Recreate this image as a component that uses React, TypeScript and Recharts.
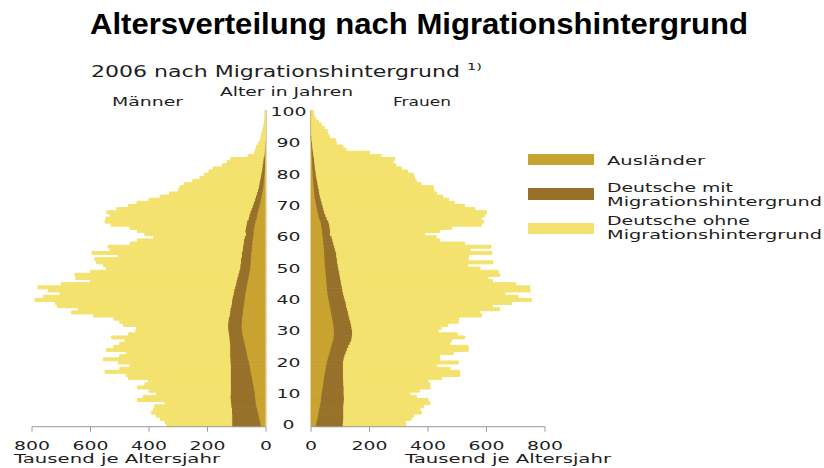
import { BarChart, Bar, XAxis, YAxis } from 'recharts';

// Altersjahre 0 bis 100 (100 = 100 und älter)
const ages = [
  0, 1, 2, 3, 4, 5, 6, 7, 8, 9,
  10, 11, 12, 13, 14, 15, 16, 17, 18, 19,
  20, 21, 22, 23, 24, 25, 26, 27, 28, 29,
  30, 31, 32, 33, 34, 35, 36, 37, 38, 39,
  40, 41, 42, 43, 44, 45, 46, 47, 48, 49,
  50, 51, 52, 53, 54, 55, 56, 57, 58, 59,
  60, 61, 62, 63, 64, 65, 66, 67, 68, 69,
  70, 71, 72, 73, 74, 75, 76, 77, 78, 79,
  80, 81, 82, 83, 84, 85, 86, 87, 88, 89,
  90, 91, 92, 93, 94, 95, 96, 97, 98, 99,
  100,
];

const ageTicks = [0, 10, 20, 30, 40, 50, 60, 70, 80, 90, 100];
const valueTicks = [0, 200, 400, 600, 800];

// Tausend je Altersjahr – Männer
const maennerAuslaender = [
  20, 22, 25, 27, 30, 32, 35, 37, 38, 40,
  40, 42, 44, 46, 48, 50, 52, 54, 56, 58,
  60, 63, 66, 68, 70, 72, 75, 78, 80, 82,
  84, 85, 85, 84, 84, 82, 80, 80, 78, 76,
  75, 74, 72, 70, 68, 66, 64, 62, 60, 58,
  56, 55, 54, 54, 52, 52, 50, 50, 48, 48,
  46, 44, 44, 42, 40, 38, 34, 32, 30, 27,
  24, 21, 19, 17, 15, 13, 11, 10, 9, 8,
  7, 6, 5, 5, 4, 4, 3, 3, 2, 2,
  2, 1, 1, 1, 1, 1, 1, 1, 1, 1,
  1,
];
const maennerMitMig = [
  97, 95, 92, 90, 88, 86, 85, 84, 84, 83,
  82, 80, 78, 76, 74, 72, 70, 68, 66, 64,
  63, 60, 58, 56, 54, 52, 50, 48, 47, 46,
  46, 46, 46, 46, 45, 44, 44, 43, 42, 42,
  42, 41, 40, 40, 39, 38, 38, 37, 36, 35,
  34, 34, 33, 33, 32, 32, 31, 30, 30, 29,
  28, 26, 28, 28, 28, 28, 27, 26, 25, 24,
  23, 22, 20, 19, 17, 16, 15, 14, 13, 12,
  11, 10, 9, 8, 7, 6, 4, 3, 3, 2,
  2, 1, 1, 1, 1, 1, 1, 1, 1, 1,
  1,
];
const maennerOhneMig = [
  223, 228, 245, 258, 273, 267, 260, 224, 318, 297,
  253, 278, 318, 292, 280, 348, 356, 428, 378, 343,
  382, 433, 376, 354, 421, 396, 375, 356, 401, 342,
  315, 311, 357, 370, 391, 464, 541, 519, 594, 602,
  673, 645, 592, 634, 673, 596, 498, 551, 557, 507,
  455, 467, 492, 498, 421, 511, 452, 460, 387, 363,
  311, 344, 368, 395, 462, 484, 486, 475, 489, 459,
  423, 398, 361, 326, 298, 271, 268, 256, 228, 206,
  192, 179, 167, 137, 122, 110, 54, 34, 31, 28,
  21, 18, 15, 13, 10, 8, 5, 3, 2, 1,
  1,
];

// Tausend je Altersjahr – Frauen
const frauenAuslaender = [
  19, 21, 24, 26, 28, 30, 32, 34, 36, 37,
  38, 40, 42, 43, 45, 46, 48, 50, 52, 54,
  56, 59, 62, 65, 68, 71, 74, 77, 79, 80,
  80, 79, 78, 76, 74, 72, 70, 68, 66, 64,
  62, 60, 58, 57, 56, 55, 54, 53, 52, 51,
  50, 49, 48, 48, 47, 47, 46, 45, 44, 43,
  42, 40, 40, 38, 36, 34, 30, 27, 24, 22,
  20, 18, 16, 14, 13, 12, 11, 10, 9, 8,
  7, 7, 6, 6, 5, 5, 4, 4, 3, 3,
  2, 1, 1, 1, 1, 1, 1, 1, 1, 1,
  1,
];
const frauenMitMig = [
  91, 90, 88, 86, 84, 82, 80, 79, 78, 77,
  75, 73, 71, 69, 67, 65, 63, 61, 59, 57,
  55, 54, 54, 55, 56, 58, 60, 62, 62, 62,
  62, 61, 60, 60, 59, 58, 58, 57, 56, 56,
  55, 54, 53, 52, 51, 50, 49, 48, 47, 46,
  45, 44, 43, 42, 41, 40, 38, 36, 34, 32,
  30, 26, 27, 27, 28, 27, 25, 24, 23, 22,
  21, 20, 19, 18, 17, 16, 15, 14, 13, 12,
  11, 10, 9, 8, 8, 7, 6, 5, 4, 3,
  3, 2, 2, 1, 1, 1, 1, 1, 1, 1,
  1,
];
const frauenOhneMig = [
  215, 211, 231, 238, 265, 261, 272, 294, 286, 246,
  225, 257, 294, 295, 288, 336, 398, 397, 364, 319,
  393, 328, 324, 367, 414, 408, 341, 341, 384, 358,
  293, 305, 330, 367, 372, 453, 450, 520, 498, 565,
  637, 594, 552, 640, 641, 595, 517, 504, 546, 543,
  483, 443, 531, 447, 452, 531, 460, 534, 447, 365,
  356, 323, 373, 415, 518, 529, 527, 543, 553, 516,
  484, 453, 435, 419, 400, 392, 392, 352, 338, 334,
  332, 313, 294, 276, 267, 274, 230, 191, 113, 103,
  82, 81, 61, 56, 53, 43, 33, 23, 13, 8,
  6,
];

const C_AUS = '#C9A331';
const C_MIT = '#97712A';
const C_OHNE = '#F3E26E';
const TEXT = '#1e1e1e';
const LABEL_FONT = '"DejaVu Sans", sans-serif';

const men = ages.map((age, i) => ({
  age,
  aus: maennerAuslaender[i],
  mit: maennerMitMig[i],
  ohne: maennerOhneMig[i],
}));
const women = ages.map((age, i) => ({
  age,
  aus: frauenAuslaender[i],
  mit: frauenMitMig[i],
  ohne: frauenOhneMig[i],
}));

const AgeTick = ({ y, payload }: any) => {
  const v = Number(payload.value);
  if (!ageTicks.includes(v)) return <g />;
  const s = String(v);
  return (
    <text x={288.5} y={y + 4} textAnchor="middle" fontFamily={LABEL_FONT} fontSize={11.5}
      fill={TEXT} textLength={s.length * 12} lengthAdjust="spacingAndGlyphs">
      {s}
    </text>
  );
};

const ValueTick = ({ x, payload }: any) => {
  const s = String(payload.value);
  return (
    <text x={x} y={349.5} textAnchor="middle" fontFamily={LABEL_FONT} fontSize={11.5}
      fill={TEXT} textLength={s.length * 12} lengthAdjust="spacingAndGlyphs">
      {s}
    </text>
  );
};

const CHART_TOP = 100;
const CHART_H = 370;
const chartMargin = { top: 10.6, bottom: 13.3 };

function Bars() {
  return (
    <>
      <Bar dataKey="aus" stackId="s" fill={C_AUS} stroke={C_AUS} strokeWidth={1} isAnimationActive={false} />
      <Bar dataKey="mit" stackId="s" fill={C_MIT} stroke={C_MIT} strokeWidth={1} isAnimationActive={false} />
      <Bar dataKey="ohne" stackId="s" fill={C_OHNE} stroke={C_OHNE} strokeWidth={1} isAnimationActive={false} />
    </>
  );
}

export default function App() {
  return (
    <div style={{ position: 'absolute', left: 0, top: 0, width: 824, height: 468, background: '#fff' }}>
      <div style={{ position: 'absolute', left: 0, top: CHART_TOP }}>
        <BarChart width={311} height={CHART_H} data={men} layout="vertical"
          barCategoryGap={0} barGap={0}
          margin={{ top: chartMargin.top, bottom: chartMargin.bottom, left: 32, right: 0 }}>
          <XAxis type="number" domain={[0, 800]} ticks={valueTicks} reversed height={30}
            axisLine={{ stroke: '#9a9a9a' }} tickLine={{ stroke: '#9a9a9a' }} tickSize={5}
            tick={<ValueTick />} interval={0} />
          <YAxis type="category" dataKey="age" orientation="right" reversed width={45}
            interval={0} tickLine={false} axisLine={{ stroke: '#ece3b8' }} tick={<AgeTick />} />
          {Bars()}
        </BarChart>
      </div>
      <div style={{ position: 'absolute', left: 299, top: CHART_TOP }}>
        <BarChart width={292} height={CHART_H} data={women} layout="vertical"
          barCategoryGap={0} barGap={0}
          margin={{ top: chartMargin.top, bottom: chartMargin.bottom, left: 12, right: 46 }}>
          <XAxis type="number" domain={[0, 800]} ticks={valueTicks} height={30}
            axisLine={{ stroke: '#9a9a9a' }} tickLine={{ stroke: '#9a9a9a' }} tickSize={5}
            tick={<ValueTick />} interval={0} />
          <YAxis type="category" dataKey="age" reversed width={0} tick={false}
            tickLine={false} axisLine={{ stroke: '#ece3b8' }} />
          {Bars()}
        </BarChart>
      </div>
      <svg width={824} height={468} style={{ position: 'absolute', left: 0, top: 0, pointerEvents: 'none' }}>
        <text x={90} y={33.5} fontFamily='"Liberation Sans", Arial, sans-serif' fontWeight="bold"
          fontSize={30} fill="#000" textLength={658} lengthAdjust="spacingAndGlyphs">
          Altersverteilung nach Migrationshintergrund
        </text>
        <g fontFamily={LABEL_FONT} fill={TEXT}>
          <text x={91} y={77} fontSize={15} textLength={369} lengthAdjust="spacingAndGlyphs">
            2006 nach Migrationshintergrund
          </text>
          <text x={467} y={70} fontSize={9.5} textLength={15} lengthAdjust="spacingAndGlyphs">1)</text>
          <text x={112} y={105.5} fontSize={12.5} textLength={71} lengthAdjust="spacingAndGlyphs">Männer</text>
          <text x={220} y={95.5} fontSize={12.5} textLength={133} lengthAdjust="spacingAndGlyphs">Alter in Jahren</text>
          <text x={393} y={105.5} fontSize={12.5} textLength={58} lengthAdjust="spacingAndGlyphs">Frauen</text>
          <text x={14} y={463} fontSize={12.5} textLength={206} lengthAdjust="spacingAndGlyphs">Tausend je Altersjahr</text>
          <text x={405} y={463} fontSize={12.5} textLength={206} lengthAdjust="spacingAndGlyphs">Tausend je Altersjahr</text>

          <rect x={528} y={154} width={66} height={11} fill={C_AUS} />
          <text x={607} y={165} fontSize={12.5} textLength={98} lengthAdjust="spacingAndGlyphs">Ausländer</text>
          <rect x={528} y={188} width={66} height={12} fill={C_MIT} />
          <text x={607} y={191.5} fontSize={12} textLength={126} lengthAdjust="spacingAndGlyphs">Deutsche mit</text>
          <text x={607} y={205.5} fontSize={12} textLength={215} lengthAdjust="spacingAndGlyphs">Migrationshintergrund</text>
          <rect x={528} y={223} width={66} height={11} fill={C_OHNE} />
          <text x={607} y={224.5} fontSize={12} textLength={143} lengthAdjust="spacingAndGlyphs">Deutsche ohne</text>
          <text x={607} y={238.5} fontSize={12} textLength={215} lengthAdjust="spacingAndGlyphs">Migrationshintergrund</text>
        </g>
      </svg>
    </div>
  );
}
